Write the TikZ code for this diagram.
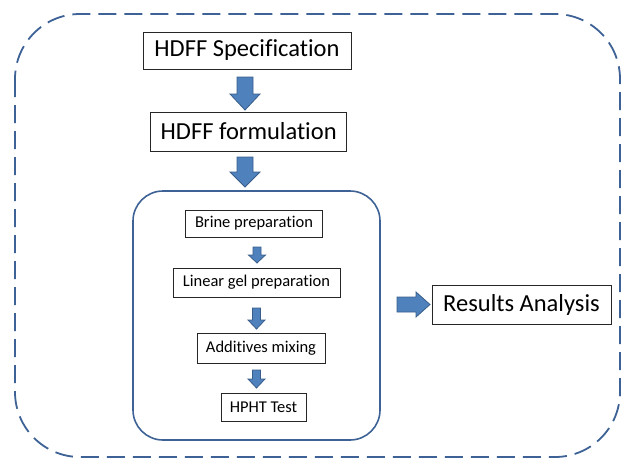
\documentclass[tikz,border=0pt]{standalone}
\usepackage{fontspec}
\setmainfont{Carlito}[Ligatures={NoCommon}]
\definecolor{arrfill}{RGB}{79,129,189}
\definecolor{arrdraw}{RGB}{56,93,138}
\definecolor{frameblue}{RGB}{62,98,150}
% #1 name, #2 cx, #3 cy, #4 length, #5 head width, #6 shaft width, #7 head length
\newcommand\myDownArrow[7]{%
  \coordinate (#1) at (#2,#3);
  \draw[blockarrow] ({#2-#6/2},{#3-#4/2}) -- ({#2+#6/2},{#3-#4/2}) -- ({#2+#6/2},{#3+#4/2-#7})
    -- ({#2+#5/2},{#3+#4/2-#7}) -- (#2,{#3+#4/2}) -- ({#2-#5/2},{#3+#4/2-#7})
    -- ({#2-#6/2},{#3+#4/2-#7}) -- cycle;}
\newcommand\myRightArrow[7]{%
  \coordinate (#1) at (#2,#3);
  \draw[blockarrow] ({#2-#4/2},{#3-#6/2}) -- ({#2+#4/2-#7},{#3-#6/2}) -- ({#2+#4/2-#7},{#3-#5/2})
    -- ({#2+#4/2},#3) -- ({#2+#4/2-#7},{#3+#5/2}) -- ({#2+#4/2-#7},{#3+#6/2})
    -- ({#2-#4/2},{#3+#6/2}) -- cycle;}
\begin{document}
\begin{tikzpicture}[x=1pt,y=-1pt,
  box/.style={draw=black!85,line width=0.7pt,inner sep=0pt,minimum width=#1},
  bigtxt/.style={font=\fontsize{24.5}{28}\selectfont},
  smalltxt/.style={font=\fontsize{16.5}{20}\selectfont},
  blockarrow/.style={draw=arrdraw,fill=arrfill,line width=0.8pt,line join=miter}]
\useasboundingbox (0,0) rectangle (621,458);
% outer dashed frame
\draw[frameblue,line width=1.8pt,dash pattern=on 18pt off 8pt,rounded corners=65pt]
  (15,14) rectangle (620,457);
% inner rounded frame
\draw[frameblue,line width=1.6pt,rounded corners=30pt] (133,191) rectangle (380,440);
% boxes
\node[box=208pt,minimum height=37pt,bigtxt] (spec) at (247,50.5) {HDFF Specification};
\node[box=196pt,minimum height=39pt,bigtxt] (form) at (248.7,131.5) {HDFF formulation};
\node[box=137pt,minimum height=27pt,smalltxt] (brine) at (254,223.5) {Brine preparation};
\node[box=167pt,minimum height=29pt,smalltxt] (gel) at (256.5,282.5) {Linear gel preparation};
\node[box=128pt,minimum height=30pt,smalltxt] (add) at (261,348) {Additives mixing};
\node[box=85pt,minimum height=28pt,smalltxt] (hpht) at (263.5,407) {HPHT Test};
\node[box=179pt,minimum height=39pt,bigtxt] (res) at (521.5,304.5) {Results Analysis};
% block arrows
\myDownArrow{a1}{245}{93.5}{33}{30}{16}{16}
\myDownArrow{a2}{245}{172}{30}{30}{16}{15}
\myDownArrow{a3}{257}{255}{16}{17}{8}{8}
\myDownArrow{a4}{256.5}{318.5}{21}{17}{8}{9}
\myDownArrow{a5}{256.5}{379}{18}{17}{8}{9}
\myRightArrow{a6}{413.5}{304.5}{33}{25}{15}{14}
\end{tikzpicture}
\end{document}
